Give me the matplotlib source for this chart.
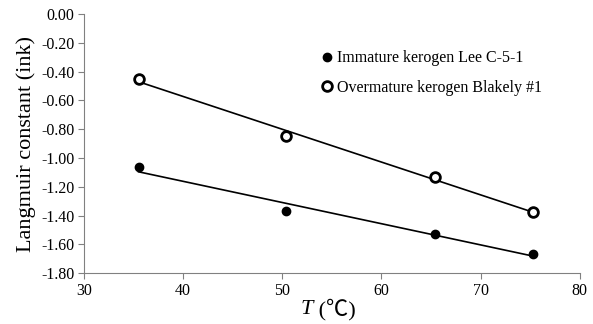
import matplotlib
matplotlib.use("Agg")
import matplotlib.pyplot as plt
import numpy as np

plt.rcParams['font.family'] = ['Liberation Serif', 'Noto Sans CJK SC', 'DejaVu Sans']

temps = [35.5, 50.4, 65.4, 75.3]
immature = [-1.065, -1.37, -1.525, -1.67]
overmature = [-0.45, -0.85, -1.135, -1.375]
labels = ["Immature kerogen Lee C-5-1", "Overmature kerogen Blakely #1"]
yticks = [0.0, -0.2, -0.4, -0.6, -0.8, -1.0, -1.2, -1.4, -1.6, -1.8]
xticks = [30, 40, 50, 60, 70, 80]

fig = plt.figure(figsize=(5.93, 3.24), dpi=100)
ax = fig.add_axes([0.1417, 0.157, 0.836, 0.80])

x = np.array(temps)
for vals in (immature, overmature):
    p = np.polyfit(x, vals, 1)
    xs = np.array([x.min(), x.max()])
    ax.plot(xs, np.polyval(p, xs), color='black', lw=1.2, zorder=2)

ax.plot(temps, immature, 'o', ms=6.0, color='black', mfc='black', mec='black',
        linestyle='none', label=labels[0], zorder=3)
ax.plot(temps, overmature, 'o', ms=7.0, color='black', mfc='white', mec='black',
        mew=2.0, linestyle='none', label=labels[1], zorder=3)

ax.set_xlim(30, 80)
ax.set_ylim(-1.8, 0.0)
ax.set_xticks(xticks)
ax.set_yticks(yticks)
ax.set_yticklabels([f"{v:.2f}" for v in yticks])
ax.tick_params(labelsize=11.5, color='#808080', length=4, width=0.8, direction='out', pad=3)
for s in ('top', 'right'):
    ax.spines[s].set_visible(False)
for s in ('left', 'bottom'):
    ax.spines[s].set_color('#808080')
    ax.spines[s].set_linewidth(0.8)

ax.set_ylabel("Langmuir constant (ink)", fontsize=16, labelpad=4)
fig.text(0.528, 0.046, "T", fontsize=16, style='italic', ha='right', va='center')
fig.text(0.528, 0.046, " (℃)", fontsize=16, ha='left', va='center',
         family=['Liberation Serif', 'Noto Sans CJK SC'])

leg = ax.legend(loc='upper left', bbox_to_anchor=(0.461, 0.885), frameon=False,
                fontsize=11.5, handletextpad=0.1, handlelength=1.0, labelspacing=0.85,
                borderaxespad=0)

fig.savefig("out.png", dpi=100)
